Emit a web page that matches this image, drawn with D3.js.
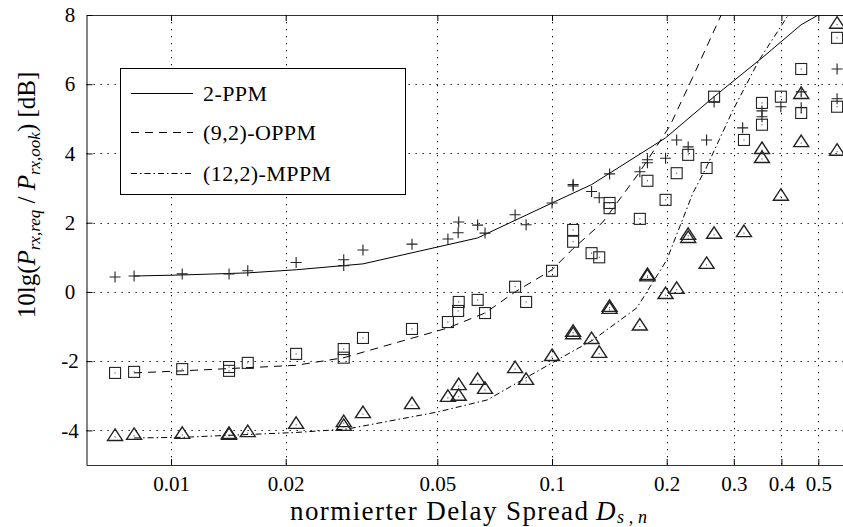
<!DOCTYPE html>
<html><head><meta charset="utf-8">
<script src="https://cdn.jsdelivr.net/npm/d3@7"></script>
<style>
body{margin:0;background:#fff}
svg{display:block}
text{font-family:"Liberation Serif","Times New Roman",serif;fill:#000}
</style>
</head><body>
<svg id="c" width="843" height="527"></svg>
<script>
// ---------- data ----------
const xTicks = [0.01, 0.02, 0.05, 0.1, 0.2, 0.3, 0.4, 0.5];
const xTickLabels = ["0.01", "0.02", "0.05", "0.1", "0.2", "0.3", "0.4", "0.5"];
const yTicks = [-4, -2, 0, 2, 4, 6, 8];
const yTickLabels = ["-4", "-2", "0", "2", "4", "6", "8"];
const seriesNames = ["2-PPM", "(9,2)-OPPM", "(12,2)-MPPM"];

// simulated curves
const ppmLineX = [0.0080, 0.0107, 0.0159, 0.0213, 0.0319, 0.0638, 0.1, 0.127, 0.1986, 0.2663, 0.3557, 0.4508, 0.5, 0.6];
const ppmLineY = [0.46, 0.49, 0.55, 0.64, 0.81, 1.56, 2.57, 3.10, 4.45, 5.64, 6.76, 7.72, 8.0, 8.0];
const oppmLineX = [0.0080, 0.0107, 0.0213, 0.0284, 0.0533, 0.0667, 0.080, 0.1, 0.1136, 0.136, 0.170, 0.204, 0.234, 0.278];
const oppmLineY = [-2.34, -2.28, -2.12, -1.90, -1.04, -0.61, 0.0, 0.64, 1.25, 2.02, 3.47, 4.80, 6.20, 8.0];
const mppmLineX = [0.0080, 0.0107, 0.0213, 0.029, 0.05, 0.0676, 0.1, 0.128, 0.167, 0.2, 0.2344, 0.2545, 0.2987, 0.3497, 0.417];
const mppmLineY = [-4.22, -4.20, -4.06, -3.96, -3.47, -3.12, -2.05, -1.39, -0.46, 0.92, 2.86, 3.61, 5.26, 6.70, 8.0];

// measured points
const ppmPtX = [0.00713, 0.0080, 0.0107, 0.0142, 0.0159, 0.0213, 0.0284, 0.0284, 0.0319, 0.0429, 0.0533, 0.0567, 0.0569, 0.0638, 0.0667, 0.080, 0.0855, 0.1, 0.1136, 0.1136, 0.127, 0.133, 0.1416, 0.17, 0.178, 0.178, 0.1986, 0.2124, 0.2277, 0.2545, 0.2663, 0.3165, 0.3557, 0.3557, 0.3987, 0.4508, 0.4508, 0.56, 0.56];
const ppmPtY = [0.43, 0.46, 0.52, 0.52, 0.61, 0.85, 0.93, 0.76, 1.21, 1.38, 1.53, 1.71, 2.02, 1.93, 1.70, 2.23, 1.94, 2.57, 3.06, 3.10, 2.90, 2.72, 3.41, 3.47, 3.73, 3.82, 3.86, 4.39, 4.19, 4.39, 5.49, 4.74, 5.23, 5.06, 5.35, 5.78, 5.32, 6.44, 5.58];
const oppmPtX = [0.00713, 0.0080, 0.0107, 0.0142, 0.0142, 0.0159, 0.0213, 0.0284, 0.0284, 0.0319, 0.0429, 0.0533, 0.0567, 0.0569, 0.0638, 0.0667, 0.080, 0.0855, 0.1, 0.1136, 0.1136, 0.127, 0.133, 0.1416, 0.1416, 0.17, 0.178, 0.1986, 0.2124, 0.2277, 0.2545, 0.2663, 0.319, 0.3557, 0.3557, 0.3987, 0.4508, 0.4508, 0.56, 0.56];
const oppmPtY = [-2.34, -2.31, -2.23, -2.17, -2.28, -2.05, -1.79, -1.65, -1.90, -1.33, -1.07, -0.87, -0.55, -0.29, -0.23, -0.61, 0.15, -0.29, 0.61, 1.79, 1.45, 1.12, 1.00, 2.57, 2.42, 2.11, 3.21, 2.66, 3.43, 3.96, 3.58, 5.64, 4.39, 5.46, 4.83, 5.64, 6.44, 5.17, 7.34, 5.35];
const mppmPtX = [0.00713, 0.0080, 0.0107, 0.0142, 0.0142, 0.0159, 0.0213, 0.0284, 0.0284, 0.0319, 0.0429, 0.0533, 0.0569, 0.0569, 0.0638, 0.0667, 0.080, 0.0855, 0.1, 0.1136, 0.1136, 0.127, 0.133, 0.1416, 0.1416, 0.17, 0.178, 0.178, 0.1986, 0.2124, 0.2277, 0.2277, 0.2545, 0.2663, 0.319, 0.3557, 0.3557, 0.3987, 0.4508, 0.4508, 0.56, 0.56];
const mppmPtY = [-4.19, -4.16, -4.13, -4.13, -4.16, -4.08, -3.84, -3.79, -3.90, -3.53, -3.27, -3.06, -2.72, -3.03, -2.57, -2.83, -2.23, -2.57, -1.88, -1.18, -1.25, -1.39, -1.79, -0.46, -0.52, -1.00, 0.46, 0.42, -0.09, 0.06, 1.62, 1.53, 0.78, 1.65, 1.70, 4.10, 3.84, 2.75, 5.69, 4.30, 7.72, 4.05];

// ---------- drawing ----------
const svg = d3.select("#c");
const L = 86.5, R = 848.5, T = 15, B = 465;
const x = d3.scaleLog().domain([0.006, 0.6]).range([L, R]);
const y = d3.scaleLinear().domain([-5, 8]).range([B, T]);

svg.append("defs").append("clipPath").attr("id", "clip")
  .append("rect").attr("x", L).attr("y", T).attr("width", R - L).attr("height", B - T);

// grid
const grid = svg.append("g").attr("stroke", "#000").attr("stroke-width", 1).attr("stroke-dasharray", "1.3,5.7");
grid.selectAll("line.v").data(xTicks).join("line")
  .attr("x1", d => Math.round(x(d)) + 0.5).attr("x2", d => Math.round(x(d)) + 0.5)
  .attr("y1", T).attr("y2", B);
grid.selectAll("line.h").data(yTicks.filter(d => d < 8)).join("line")
  .attr("y1", d => Math.round(y(d)) + 0.5).attr("y2", d => Math.round(y(d)) + 0.5)
  .attr("x1", L).attr("x2", R);

// axes (ticks inward, labels)
const axB = d3.axisBottom(x).tickValues(xTicks).tickFormat((d, i) => xTickLabels[i]).tickSizeInner(-6).tickSizeOuter(0).tickPadding(11);
const axT = d3.axisTop(x).tickValues(xTicks).tickFormat("").tickSizeInner(-6).tickSizeOuter(0);
const axL = d3.axisLeft(y).tickValues(yTicks).tickFormat((d, i) => yTickLabels[i]).tickSizeInner(-6).tickSizeOuter(0).tickPadding(16);
const axR = d3.axisRight(y).tickValues(yTicks).tickFormat("").tickSizeInner(-6).tickSizeOuter(0);
function style(g) {
  g.select(".domain").attr("stroke", "#333").attr("stroke-width", 1.2);
  g.selectAll(".tick line").attr("stroke", "#000");
  g.selectAll(".tick text").style("font-family", '"Liberation Serif",serif').style("font-size", "21px").attr("fill", "#000");
}
svg.append("g").attr("transform", `translate(0,${B})`).call(axB).call(style);
svg.append("g").attr("transform", `translate(0,${T})`).call(axT).call(style);
const gl = svg.append("g").attr("transform", `translate(${L},0)`).call(axL).call(style);
gl.selectAll(".tick text").attr("text-anchor", "middle").attr("x", -16.5);
svg.append("g").attr("transform", `translate(${R},0)`).call(axR).call(style);

// curves
const line = d3.line().x(d => x(d[0])).y(d => y(d[1]));
const curves = [
  {xs: ppmLineX, ys: ppmLineY, dash: null},
  {xs: oppmLineX, ys: oppmLineY, dash: "8,6"},
  {xs: mppmLineX, ys: mppmLineY, dash: "6,3,1.5,3"}
];
const cg = svg.append("g").attr("clip-path", "url(#clip)");
curves.forEach(c => {
  cg.append("path").datum(c.xs.map((v, i) => [v, c.ys[i]]))
    .attr("d", line).attr("fill", "none").attr("stroke", "#000").attr("stroke-width", 1)
    .attr("stroke-dasharray", c.dash);
});

// markers
const mk = svg.append("g").attr("fill", "none").attr("stroke", "#222").attr("stroke-width", 1.1);
mk.selectAll("path.plus").data(ppmPtX.map((v, i) => [v, ppmPtY[i]])).join("path")
  .attr("transform", d => `translate(${x(d[0])},${y(d[1])})`)
  .attr("d", "M-5.5,0H5.5M0,-5.5V5.5");
const sq = mk.selectAll("g.sq").data(oppmPtX.map((v, i) => [v, oppmPtY[i]])).join("g")
  .attr("transform", d => `translate(${x(d[0])},${y(d[1])})`);
sq.append("rect").attr("x", -5.5).attr("y", -5.5).attr("width", 11).attr("height", 11);
sq.append("rect").attr("x", -0.5).attr("y", -0.5).attr("width", 1).attr("height", 1).attr("fill", "#222").attr("stroke", "none");
const tr = mk.selectAll("g.tr").data(mppmPtX.map((v, i) => [v, mppmPtY[i]])).join("g")
  .attr("transform", d => `translate(${x(d[0])},${y(d[1])})`);
tr.append("path").attr("d", "M0,-8L7.5,3.5L-7.5,3.5Z").attr("stroke-width", 1.4);
tr.append("rect").attr("x", -0.5).attr("y", -0.5).attr("width", 1).attr("height", 1).attr("fill", "#222").attr("stroke", "none");

// legend
const lg = svg.append("g");
lg.append("rect").attr("x", 120.5).attr("y", 68.5).attr("width", 285).attr("height", 126)
  .attr("fill", "#fff").attr("stroke", "#000").attr("stroke-width", 1);
const rowY = [93, 132, 173];
seriesNames.forEach((n, i) => {
  lg.append("line").attr("x1", 131).attr("x2", 193).attr("y1", rowY[i] + 0.5).attr("y2", rowY[i] + 0.5)
    .attr("stroke", "#000").attr("stroke-width", 1).attr("stroke-dasharray", curves[i].dash);
  lg.append("text").attr("x", 203).attr("y", rowY[i] + 7.5).style("font-size", "22px")
    .style("letter-spacing", "0.4px").text(n);
});

// x label
svg.append("text").attr("x", 290).attr("y", 520).style("font-size", "27px")
  .attr("textLength", 298).attr("lengthAdjust", "spacing").text("normierter Delay Spread");
svg.append("text").attr("x", 596).attr("y", 520).style("font-size", "27px").style("font-style", "italic").text("D");
svg.append("text").attr("x", 617).attr("y", 523).style("font-size", "18px").style("font-style", "italic")
  .attr("textLength", 30).attr("lengthAdjust", "spacing").text("s,n");

// y label
const yl = svg.append("text").attr("transform", "translate(35,195) rotate(-90)").attr("text-anchor", "middle").style("font-size", "25px");
yl.append("tspan").text("10lg(");
yl.append("tspan").style("font-style", "italic").text("P");
yl.append("tspan").attr("dy", 5).style("font-style", "italic").style("font-size", "17px").text("rx,req");
yl.append("tspan").attr("dy", -5).text(" / ");
yl.append("tspan").style("font-style", "italic").text("P");
yl.append("tspan").attr("dy", 5).style("font-style", "italic").style("font-size", "17px").text("rx,ook");
yl.append("tspan").attr("dy", -5).text(") [dB]");
</script>
</body></html>
